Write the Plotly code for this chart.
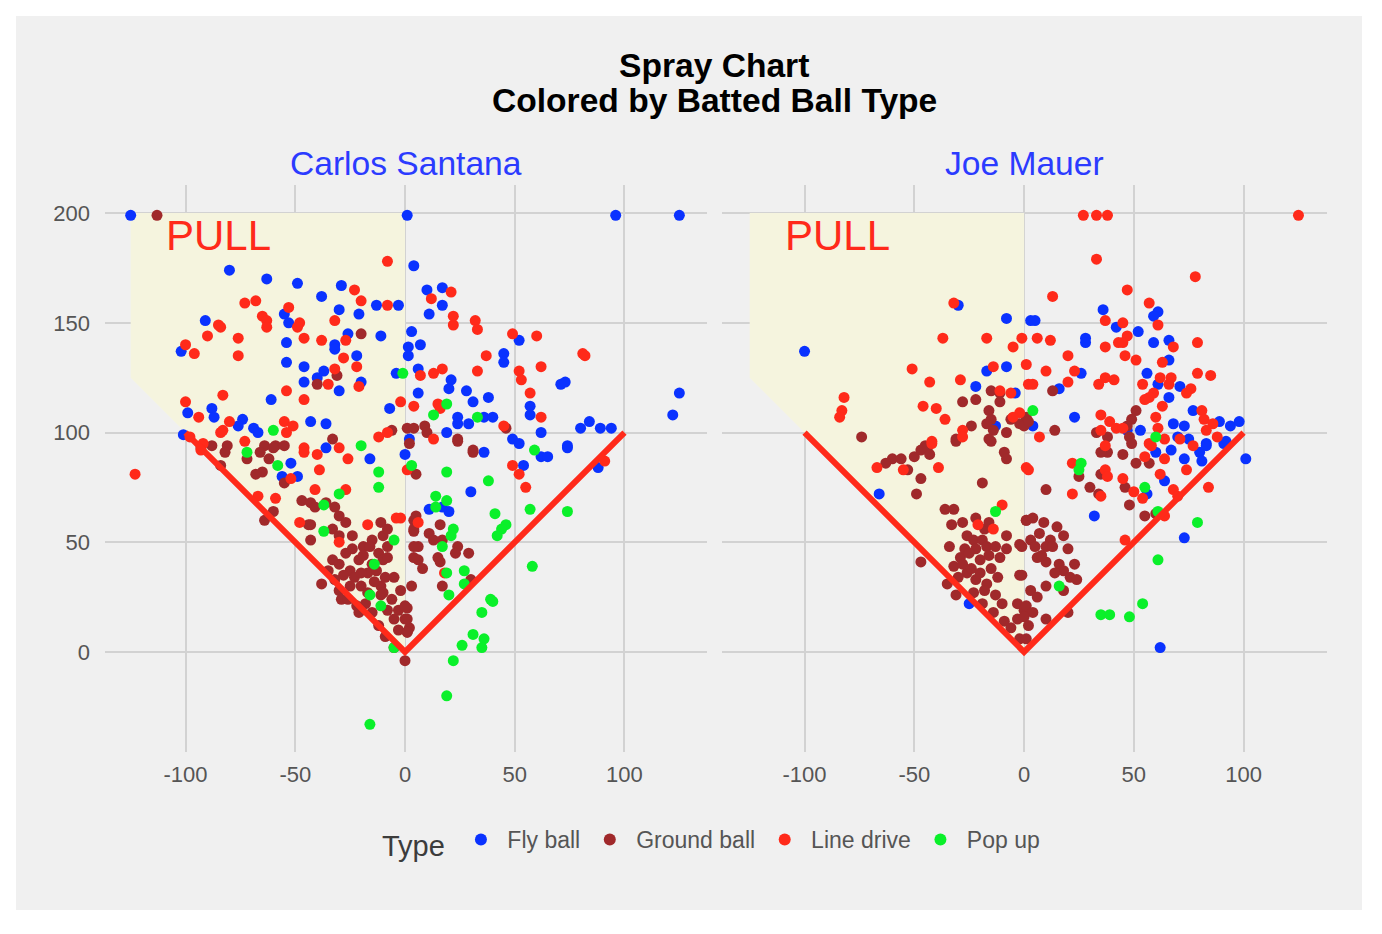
import plotly.graph_objects as go

# ---------------- data ----------------
players = ["Carlos Santana", "Joe Mauer"]
types = ["Fly ball", "Ground ball", "Line drive", "Pop up"]
type_colors = ["#0A32FF", "#A0292B", "#FF2A1A", "#0AF02A"]

x_ticks = [-100, -50, 0, 50, 100]
x_tick_text = ["-100", "-50", "0", "50", "100"]
y_ticks = [0, 50, 100, 150, 200]
y_tick_text = ["0", "50", "100", "150", "200"]

# foul lines and "pull" zone
foul_x = [-100, 0, 100]
foul_y = [100, 0, 100]
pull_x = [-125, 0, 0, -125, -125]
pull_y = [200, 200, 0, 125, 200]
pull_label = "PULL"
pull_label_xy = (-85, 190)

# Carlos Santana  (hc_x, hc_y) per batted-ball type
santana_fly = [
    (-125, 199), (1, 199), (-80, 174), (-63, 170), (-49, 168), (-29, 167), (-38, 162), (-30, 156),
    (-21, 154), (-13, 158), (-3, 158), (-91, 151), (-55, 154), (-53, 150), (-54, 141), (-54, 132),
    (-46, 130), (-46, 123), (-37, 128), (-40, 125), (-32, 140), (-32, 138), (-26, 145), (-22, 135),
    (-20, 123), (-30, 119), (-11, 144), (-61, 115), (-102, 137), (-99, 109), (-88, 111), (-87, 107),
    (-74, 106), (-76, 103), (-69, 102), (-67, 100), (-43, 105), (-36, 104), (-101, 99), (-7, 111),
    (-4, 127), (1.5, 139), (1.5, 135), (3, 146), (4, 176), (2, 97),
    (96, 199), (125, 199), (10, 165), (17, 166), (17, 158), (11, 154), (7, 140), (52, 142),
    (45, 136), (45, 132), (6, 129), (21, 124), (20, 120), (6, 118), (28, 119), (31, 114),
    (38, 116), (24, 107), (24, 104), (29, 104), (36, 107), (40, 107), (19, 100), (49, 97),
    (52, 95), (57, 112), (57, 108), (71, 122), (73, 123), (62, 100), (74, 94), (80, 102),
    (84, 105), (89, 102), (94, 102), (125, 118), (122, 108),
    (62, 89), (65, 89), (74, 93), (36, 91), (0, 90), (30, 73), (11, 65), (20, 64), (17, 66),
    (88, 84), (54, 85), (-36, 93), (-16, 88), (-52, 86), (-56, 80), (-49, 80),
]
santana_ground = [
    (-113, 199), (-20, 145), (-31, 126), (-40, 122), (-33, 97), (1, 102), (4, 102), (-6, 101),
    (-88, 94), (-81, 94), (-64, 94), (-59, 94), (-55, 94),
    (9, 103), (10, 100), (24, 97), (46, 102), (31, 92),
    (2, 95), (24, 96), (31, 91), (5, 81), (4, 60), (5, 62), (4, 55), (16, 58), (11, 54), (13, 51),
    (17, 51), (6, 48), (24, 48), (23, 45), (29, 45), (15, 43), (16, 41), (6, 42), (8, 38), (3, 30),
    (17, 30), (30, 33), (1, 20), (0, 15), (2, 11), (1, 9), (0, -4),
    (-84, 85), (-93, 93), (-82, 91), (-72, 88), (-66, 91), (-62, 88), (-65, 82), (-68, 81),
    (-60, 93), (-55, 77), (-60, 64), (-64, 60), (-47, 69), (-43, 68), (-41, 66), (-36, 68),
    (-32, 66), (-30, 62), (-27, 59), (-43, 58), (-43, 51), (-33, 56), (-30, 53), (-24, 53),
    (-19, 48), (-15, 51), (-10, 53), (-11, 59), (-8, 48), (4, 56), (4, 48), (4, 43),
    (-38, 31), (-35, 37), (-32, 33), (-30, 28), (-29, 24), (-30, 40), (-27, 45), (-24, 47),
    (-25, 37), (-23, 34), (-21, 42), (-19, 44), (-20, 30), (-17, 36), (-15, 40), (-17, 27),
    (-21, 18), (-12, 45), (-10, 42), (-8, 43), (-13, 37), (-9, 34), (-11, 30), (-5, 34),
    (-10, 27), (-8, 19), (-3, 19), (0, 21), (-5, 15), (1, 15), (-3, 10), (1, 9), (-9, 7),
    (-5, 2), (-26, 24), (-22, 21), (-15, 18), (-8, 56), (-44, 58), (-11, 26),
    (-20, 36), (-25, 30), (-14, 32), (-18, 22), (-6, 24), (-2, 28), (-12, 12), (-28, 35),
    (-33, 42), (-16, 48),
]
santana_line = [
    (-8, 178), (-23, 165), (-20, 160), (-8, 158), (-73, 159), (-68, 160), (-65, 153), (-63, 151),
    (-63, 148), (-53, 157), (-48, 150), (-49, 148), (-85, 149), (-84, 148), (-90, 144), (-76, 143),
    (-76, 135), (-100, 140), (-96, 136), (-46, 143), (-32, 151), (-38, 142), (-27, 142), (-28, 134),
    (-22, 130), (-21, 121), (-32, 129), (-35, 122), (-54, 119), (-46, 115), (-83, 117), (-100, 114),
    (-94, 107), (-80, 105), (-55, 105), (-51, 103), (-54, 100), (-84, 100), (-83, 101), (-98, 98),
    (-92, 95), (-73, 96), (-2, 114), (4, 112), (-12, 98), (-8, 100), (-30, 93), (-46, 93),
    (12, 161), (21, 164), (22, 153), (22, 149), (32, 151), (33, 147), (49, 145), (60, 144),
    (37, 135), (33, 128), (17, 129), (13, 127), (7, 126), (52, 128), (53, 124), (62, 130),
    (81, 136), (82, 135), (57, 118), (62, 107), (15, 113), (16, 111), (13, 97), (45, 103),
    (91, 87), (49, 85), (52, 81), (55, 75), (1, 83), (-2, 61), (6, 59), (18, 36),
    (-123, 81), (-93, 92), (-59, 70), (-67, 71), (-48, 59), (-41, 74), (-27, 74), (-39, 83),
    (-46, 91), (-40, 90), (-26, 88), (-17, 58), (-4, 61), (-30, 50), (-52, 79),
]
santana_pop = [
    (-1, 127), (-60, 101), (-20, 94), (19, 113), (13, 108), (33, 107), (59, 92),
    (19, 82), (38, 78), (3, 85), (14, 71), (19, 69), (14, 66), (41, 63), (57, 65), (74, 64),
    (46, 58), (44, 56), (42, 53), (22, 56), (21, 53), (17, 48), (58, 39), (27, 37), (19, 36),
    (27, 31), (20, 26), (39, 24), (40, 23), (35, 18), (31, 8), (36, 6), (35, 2), (26, 3),
    (22, -4), (19, -20),
    (-72, 91), (-58, 85), (-12, 82), (-12, 75), (-30, 72), (-37, 67), (-37, 55), (-5, 51),
    (-14, 40), (-16, 26), (-11, 21), (-5, 2), (-16, -33),
]

# Joe Mauer
mauer_fly = [
    (-30, 158), (-100, 137), (-8, 152), (-8, 130), (-17, 128), (-22, 121), (-4, 118), (-13, 103),
    (3, 151), (-66, 72), (-25, 22),
    (5, 151), (36, 156), (42, 148), (28, 143), (28, 141), (52, 146), (59, 141), (66, 142),
    (61, 155), (59, 153), (66, 133), (26, 127), (56, 127), (61, 122), (71, 121), (66, 116),
    (16, 120), (77, 110), (89, 105), (94, 103), (98, 105), (23, 107), (68, 104), (73, 103),
    (53, 101), (47, 101), (70, 98), (75, 97), (83, 95), (92, 96), (4, 103),
    (32, 62), (64, 78), (73, 52), (101, 88), (62, 2), (56, 72), (60, 91), (67, 92), (73, 88),
    (80, 91), (81, 87), (83, 94), (91, 95),
]
mauer_ground = [
    (-74, 98), (-15, 119), (-11, 118), (-11, 114), (-28, 114), (-22, 115), (-16, 110), (-15, 106),
    (-17, 104), (-14, 101), (-16, 97), (-24, 103), (-8, 100), (-6, 106), (-2, 104), (1, 107),
    (0, 103), (-31, 97), (-45, 94),
    (-60, 88), (-63, 86), (-56, 88), (-50, 89), (-53, 83), (-47, 92), (-44, 93), (-43, 90),
    (-47, 79), (-49, 72), (-31, 96), (-15, 96), (-9, 91), (-8, 88), (-19, 77), (-36, 65),
    (-32, 65), (-33, 58), (-28, 59), (-26, 53), (-22, 61), (-18, 56), (-16, 59), (-8, 53),
    (-2, 49), (1, 60), (-47, 41),
    (-34, 48), (-32, 39), (-35, 31), (-31, 26), (-29, 43), (-27, 47), (-26, 36), (-23, 51),
    (-22, 47), (-20, 42), (-19, 51), (-17, 48), (-16, 44), (-13, 48), (-11, 43), (-12, 34),
    (-22, 33), (-17, 31), (-23, 27), (-13, 26), (-19, 22), (-14, 18), (-9, 14), (-6, 11),
    (-3, 22), (0, 19), (-3, 15), (-2, 6), (-2, 35), (-8, 47), (-28, 40), (-24, 38), (-20, 36),
    (-15, 38), (-25, 45), (-30, 34), (-18, 28), (-10, 22),
    (13, 119), (2, 105), (14, 101), (51, 110), (49, 106), (47, 103), (48, 98), (49, 95),
    (33, 100), (38, 98),
    (10, 74), (25, 80), (30, 75), (34, 72), (35, 81), (38, 91), (35, 91), (45, 90), (51, 86),
    (57, 86), (46, 75), (48, 67), (55, 62), (60, 63),
    (1, 60), (4, 61), (9, 59), (15, 57), (18, 53), (7, 54), (12, 51), (3, 51), (-1, 48), (5, 48),
    (10, 48), (13, 48), (20, 47), (6, 43), (10, 41), (16, 40), (23, 40), (18, 37), (21, 34),
    (24, 33), (10, 30), (18, 28), (-1, 35), (1, 21), (4, 18), (0, 16), (2, 12), (10, 15),
    (20, 18), (1, 6), (8, 44), (14, 36), (3, 28), (6, 25),
]
mauer_line = [
    (-32, 159), (-37, 143), (-17, 143), (-5, 139), (-1, 143), (-14, 130), (-51, 129), (-43, 123),
    (-29, 124), (1, 131), (2, 122), (-82, 116), (-83, 110), (-84, 107), (-46, 112), (-40, 111),
    (-36, 106), (-28, 101), (-28, 98), (-42, 96), (-6, 118), (-11, 119), (-2, 109), (-5, 107),
    (-67, 84), (-55, 83), (-39, 84), (-42, 95), (-10, 67), (-21, 58), (-14, 56), (1, 84),
    (27, 199), (33, 199), (38, 199), (125, 199), (33, 179), (78, 171), (13, 162), (47, 165),
    (57, 159), (37, 151), (45, 150), (61, 149), (6, 143), (12, 142), (47, 144), (43, 141),
    (45, 141), (37, 139), (68, 139), (79, 141), (20, 135), (46, 135), (51, 133), (63, 132),
    (10, 128), (23, 128), (79, 127), (85, 126), (4, 122), (20, 123), (34, 122), (37, 125),
    (41, 124), (54, 122), (62, 125), (67, 125), (66, 122), (76, 120), (74, 118), (59, 118),
    (57, 116), (55, 115), (63, 112), (60, 107), (81, 110), (82, 106), (86, 104), (35, 108),
    (39, 105), (35, 101), (42, 102), (45, 102), (61, 102), (64, 97), (71, 97), (77, 94),
    (83, 101), (88, 98), (7, 98), (57, 95), (37, 94),
    (2, 83), (22, 86), (22, 72), (35, 71), (37, 83), (38, 80), (45, 79), (50, 73), (54, 70),
    (55, 89), (58, 94), (62, 81), (64, 88), (68, 74), (70, 71), (64, 62), (74, 83), (84, 75),
    (46, 51),
]
mauer_pop = [
    (-13, 64), (4, 110), (60, 98), (26, 86), (25, 83), (55, 75), (61, 64), (79, 59), (61, 42),
    (54, 22), (35, 17), (39, 17), (48, 16), (16, 30),
]

player_data = [
    [santana_fly, santana_ground, santana_line, santana_pop],
    [mauer_fly, mauer_ground, mauer_line, mauer_pop],
]

# ---------------- figure ----------------
# page has an 8px body margin, so the figure is 1366x918 and all
# reference pixel positions are shifted by 8 px
OFF = 8
W, H = 1382 - 2 * OFF, 934 - 2 * OFF
FONT = "Liberation Sans"
RED = "#FF2A1A"


def px_x(p):
    return (p - OFF) / W


def px_y(p):
    return 1 - (p - OFF) / H


fig = go.Figure()

axis_refs = [("x", "y"), ("x2", "y2")]
for pi, player in enumerate(players):
    xa, ya = axis_refs[pi]
    fig.add_trace(go.Scatter(
        x=pull_x, y=pull_y, xaxis=xa, yaxis=ya, mode="lines", fill="toself",
        fillcolor="#F5F4DE", line=dict(width=0), hoverinfo="skip", showlegend=False,
    ))
    for ti, tname in enumerate(types):
        pts = player_data[pi][ti]
        fig.add_trace(go.Scatter(
            x=[p[0] for p in pts], y=[p[1] for p in pts], xaxis=xa, yaxis=ya,
            mode="markers", name="\u00a0" + tname + "\u2009", legendgroup=tname,
            showlegend=(pi == 0),
            marker=dict(size=11, color=type_colors[ti], line=dict(width=0)),
        ))
    fig.add_trace(go.Scatter(
        x=foul_x, y=foul_y, xaxis=xa, yaxis=ya, mode="lines",
        line=dict(color=RED, width=6), hoverinfo="skip", showlegend=False,
    ))
    fig.add_annotation(
        x=pull_label_xy[0], y=pull_label_xy[1], xref=xa, yref=ya, text=pull_label,
        showarrow=False, xanchor="center", yanchor="middle",
        font=dict(family=FONT, size=42, color=RED),
    )

x_ranges = [[-136.7, 137.6], [-137.6, 138.0]]
x_domains = [[px_x(105), px_x(707)], [px_x(722), px_x(1327)]]
y_range = [-45.6, 212.8]
y_domain = [px_y(752), px_y(185)]

grid = "#D2D2D2"
tick_font = dict(family=FONT, size=22, color="#555555")

common_x = dict(
    tickmode="array", tickvals=x_ticks, ticktext=x_tick_text, showgrid=True, gridcolor=grid,
    gridwidth=2, zeroline=False, showline=False, ticks="", tickfont=tick_font,
    ticklabelstandoff=7, fixedrange=True,
)
common_y = dict(
    tickmode="array", tickvals=y_ticks, ticktext=y_tick_text, showgrid=True, gridcolor=grid,
    gridwidth=2, zeroline=False, showline=False, ticks="", tickfont=tick_font,
    range=y_range, domain=y_domain, fixedrange=True,
)

fig.update_layout(
    width=W, height=H,
    margin=dict(l=0, r=0, t=0, b=0),
    paper_bgcolor="white",
    plot_bgcolor="#F0F0F0",
    font=dict(family=FONT),
    xaxis=dict(common_x, range=x_ranges[0], domain=x_domains[0], anchor="y"),
    xaxis2=dict(common_x, range=x_ranges[1], domain=x_domains[1], anchor="y2"),
    yaxis=dict(common_y, anchor="x", ticklabelstandoff=14),
    yaxis2=dict(common_y, anchor="x2", showticklabels=False),
    showlegend=True,
    legend=dict(
        orientation="h", x=px_x(715), xanchor="center", y=px_y(842), yanchor="middle",
        bgcolor="rgba(0,0,0,0)", font=dict(family=FONT, size=23, color="#555555"),
        title=dict(text="Type\u00a0", font=dict(family=FONT, size=29, color="#3C3C3C"), side="left"),
        itemsizing="constant",
    ),
    shapes=[dict(
        type="rect", xref="paper", yref="paper", x0=px_x(16), x1=px_x(1362),
        y0=px_y(910), y1=px_y(16), fillcolor="#F0F0F0", line=dict(width=0), layer="below",
    )],
)

# titles
fig.add_annotation(x=px_x(714), y=px_y(66), xref="paper", yref="paper",
                   xanchor="center", yanchor="middle",
                   text="<b>Spray Chart</b>", showarrow=False,
                   font=dict(family=FONT, size=33.6, color="black"))
fig.add_annotation(x=px_x(714), y=px_y(101), xref="paper", yref="paper",
                   xanchor="center", yanchor="middle",
                   text="<b>Colored by Batted Ball Type</b>", showarrow=False,
                   font=dict(family=FONT, size=33.6, color="black"))
for pi, player in enumerate(players):
    cx = (x_domains[pi][0] + x_domains[pi][1]) / 2
    fig.add_annotation(x=cx, y=px_y(163), xref="paper", yref="paper", text=player,
                       xanchor="center", yanchor="middle", showarrow=False,
                       font=dict(family=FONT, size=33.6, color="#2B3BFF"))

fig.write_html("out.html")
